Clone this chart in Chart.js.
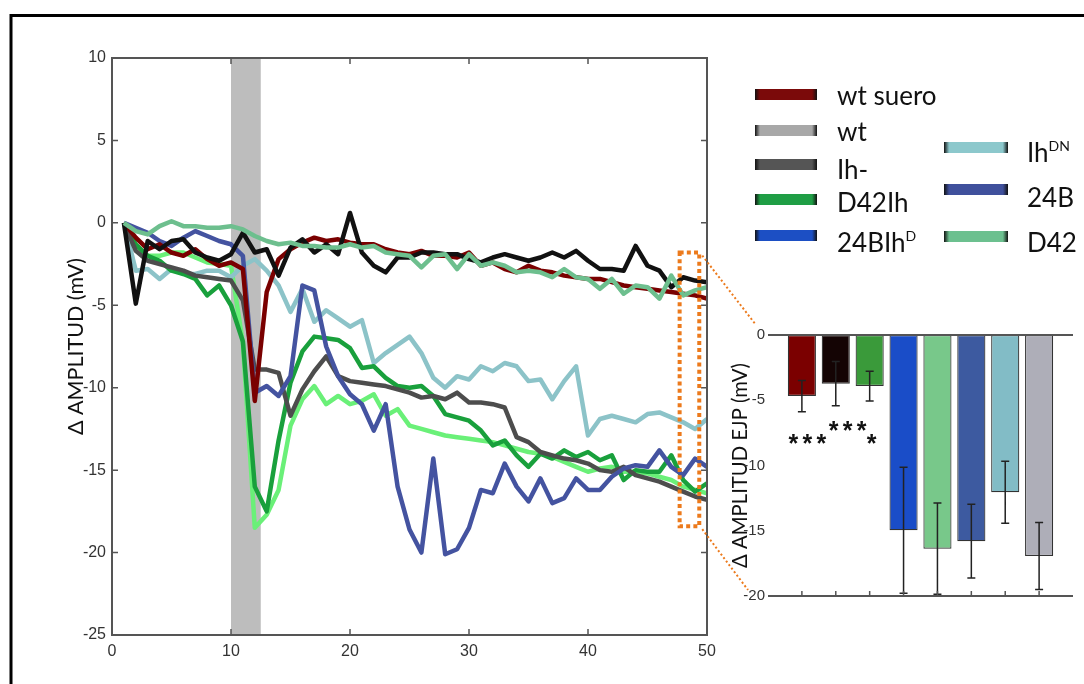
<!DOCTYPE html>
<html>
<head>
<meta charset="utf-8">
<script src="https://cdn.jsdelivr.net/npm/chart.js@4.4.0/dist/chart.umd.min.js"></script>
<style>
  html, body { margin: 0; padding: 0; background: #fff; }
  #wrap { position: relative; width: 1084px; height: 684px; overflow: hidden; }
  #mainChart { position: absolute; left: 0; top: 0; }
  #insetChart { position: absolute; left: 720px; top: 300px; }
  .swatch { position: absolute; height: 11px; }
  .lab { position: absolute; font-family: Lato, sans-serif; font-size: 26px; line-height: 26px; color: #111; white-space: nowrap; }
  .lab span { font-size: 14px; position: relative; top: -11px; }
</style>
</head>
<body>
<div id="wrap">
  <canvas id="mainChart" width="1084" height="684"></canvas>
  <canvas id="insetChart" width="364" height="384"></canvas>
  <div id="legend"></div>
</div>
<script>
// sweep number (x)
var sweeps = [1, 2, 3, 4, 5, 6, 7, 8, 9, 10,
  11, 12, 13, 14, 15, 16, 17, 18, 19, 20,
  21, 22, 23, 24, 25, 26, 27, 28, 29, 30,
  31, 32, 33, 34, 35, 36, 37, 38, 39, 40,
  41, 42, 43, 44, 45, 46, 47, 48, 49, 50];

// delta amplitude (mV) per sweep
var wt = [0, -4.9, -1.1, -1.6, -1.1, -1.0, -1.8, -2.1, -2.3, -1.9,
  -0.6, -1.8, -1.6, -3.2, -1.5, -1.0, -1.8, -1.3, -1.9, 0.6,
  -1.8, -2.6, -3.0, -2.1, -2.1, -1.8, -1.8, -1.9, -1.9, -2.2,
  -2.4, -2.1, -1.9, -2.1, -2.3, -2.1, -1.8, -2.1, -1.7, -2.3,
  -2.8, -2.8, -2.9, -1.4, -2.6, -2.9, -3.9, -3.3, -3.5, -3.6];
var wtSuero = [0, -0.9, -1.6, -1.3, -1.8, -2.0, -1.6, -2.2, -2.6, -2.4,
  -2.8, -10.8, -4.2, -2.2, -1.6, -1.2, -0.9, -1.1, -1.0, -1.2,
  -1.3, -1.3, -1.6, -1.8, -1.9, -1.7, -2.0, -2.0, -2.1, -1.8,
  -2.6, -2.4, -2.8, -3.0, -2.6, -2.9, -3.0, -3.2, -3.3, -3.4,
  -3.4, -3.6, -3.8, -3.9, -4.0, -4.1, -4.2, -4.3, -4.4, -4.6];
var d42 = [0, -0.5, -0.7, -0.2, 0.1, -0.2, -0.2, -0.3, -0.3, -0.2,
  -0.4, -0.8, -1.1, -1.3, -1.2, -1.4, -1.4, -1.5, -1.5, -1.3,
  -1.5, -1.4, -1.8, -1.9, -2.0, -2.7, -2.0, -1.9, -2.8, -1.9,
  -2.6, -2.4, -2.6, -3.0, -2.9, -3.0, -3.3, -2.8, -3.3, -3.4,
  -4.0, -3.4, -4.3, -3.8, -3.9, -4.6, -3.2, -4.4, -4.1, -3.9];
var ihDN = [0, -2.9, -2.8, -3.4, -2.8, -3.1, -3.1, -2.9, -2.9, -3.3,
  -2.6, -2.2, -2.9, -3.8, -5.4, -4.0, -6.0, -5.3, -5.8, -6.3,
  -5.9, -8.5, -7.9, -7.4, -6.9, -7.9, -9.4, -10.0, -9.3, -9.5,
  -8.7, -9.0, -8.5, -8.7, -9.6, -9.5, -10.7, -9.6, -8.7, -12.9,
  -11.9, -11.7, -11.9, -12.1, -11.6, -11.5, -11.8, -12.1, -12.5, -11.9];
var b24 = [0, -0.3, -0.6, -1.1, -1.4, -0.9, -0.5, -0.8, -1.1, -1.3,
  -2.0, -10.3, -9.9, -10.5, -9.3, -3.8, -4.1, -7.5, -9.3, -10.4,
  -11.0, -12.6, -11.0, -16.0, -18.6, -20.0, -14.3, -20.1, -19.8, -18.5,
  -16.2, -16.4, -14.6, -16.0, -16.9, -15.5, -17.0, -16.7, -15.5, -16.2,
  -16.2, -15.4, -14.9, -14.7, -14.8, -13.8, -14.8, -15.3, -14.3, -14.8];
var ihMinus = [0, -1.7, -2.3, -2.5, -2.7, -2.9, -3.2, -3.3, -3.4, -3.5,
  -4.7, -8.9, -8.9, -9.1, -11.7, -10.1, -9.0, -8.1, -9.3, -9.6,
  -9.7, -9.8, -9.9, -10.1, -10.3, -10.6, -10.5, -10.7, -10.3, -10.9,
  -10.9, -11.0, -11.2, -13.0, -13.3, -13.9, -14.1, -14.3, -14.4, -14.6,
  -15.0, -15.1, -14.8, -15.3, -15.5, -15.7, -16.0, -16.3, -16.6, -16.8];
var d42Ih = [0, -1.3, -2.0, -2.3, -2.9, -3.1, -3.4, -4.4, -3.8, -5.0,
  -7.2, -16.0, -17.5, -13.2, -9.7, -7.8, -6.9, -7.0, -7.1, -7.6,
  -8.8, -8.7, -9.4, -9.9, -10.0, -9.9, -10.5, -11.6, -11.8, -12.0,
  -12.6, -13.5, -13.2, -14.1, -14.8, -14.0, -14.3, -13.8, -14.2, -13.9,
  -14.4, -14.1, -15.6, -15.0, -15.1, -15.1, -14.1, -15.6, -16.3, -15.8];
var b24IhD = [0, -1.5, -2.0, -2.0, -1.8, -1.8, -2.1, -2.4, -2.5, -2.6,
  -7.3, -18.5, -17.7, -16.2, -12.3, -10.7, -9.9, -11.0, -10.5, -11.0,
  -10.8, -10.4, -11.7, -11.3, -12.3, -12.5, -12.7, -12.9, -13.0, -13.1,
  -13.2, -13.3, -13.5, -13.7, -13.9, -14.0, -14.2, -14.5, -14.8, -15.1,
  -14.9, -14.8, -15.1, -15.1, -15.2, -15.4, -15.6, -16.0, -16.2, -16.4];

// stimulation window (grey band) and zoomed window
var stimWindow = [10, 12.5];
var zoomBox = { xMin: 47.7, xMax: 49.35, yMin: -18.4, yMax: -1.8 };

// inset bar chart: mean +/- error of the final sweeps
var groupPos = [1, 2, 3, 4, 5, 6, 7, 8];
var groupMean = [-4.68, -3.73, -3.91, -14.96, -16.37, -15.8, -12.05, -16.93];
var groupErr = [1.2, 1.7, 1.14, 4.82, 3.49, 2.83, 2.38, 2.57];
var starText = ['***', '***', '*'];
var starPos = [1.16, 2.35, 3.06];
var starLevel = [-8.0, -7.0, -8.0];

var legendItems = [
  { label: 'wt suero', sup: '', color: '#7b0a0a', col: 0, row: 0 },
  { label: 'wt', sup: '', color: '#a8a8a8', col: 0, row: 1 },
  { label: 'Ih-', sup: '', color: '#555555', col: 0, row: 2 },
  { label: 'D42Ih', sup: '', color: '#1f9e45', col: 0, row: 3 },
  { label: '24BIh', sup: 'D', color: '#1c4fc4', col: 0, row: 4 },
  { label: 'Ih', sup: 'DN', color: '#8cc8cc', col: 1, row: 0 },
  { label: '24B', sup: '', color: '#3f509c', col: 1, row: 1 },
  { label: 'D42', sup: '', color: '#6cc08f', col: 1, row: 2 }
];

var MAIN_TITLE = 'Δ AMPLITUD (mV)';
var INSET_TITLE = 'Δ AMPLITUD EJP (mV)';
var TICK_FAMILY = '"Liberation Sans", Arial, sans-serif';

// pick a font size so the rotated title spans the same length as in the figure
function fitSize(text, family, target) {
  var c = document.createElement('canvas').getContext('2d');
  c.font = '100px ' + family;
  return Math.round(100 * target / c.measureText(text).width * 10) / 10;
}
var mainTitleSize = fitSize(MAIN_TITLE, 'Lato', 177);
var insetTitleSize = fitSize(INSET_TITLE, 'Lato', 205);

function toPoints(values) {
  return values.map(function(v, i) { return { x: sweeps[i], y: v }; });
}

function lineSet(label, values, color, order) {
  return {
    label: label,
    data: toPoints(values),
    borderColor: color,
    borderWidth: 4.5,
    pointRadius: 0,
    tension: 0,
    borderJoinStyle: 'round',
    order: order
  };
}

// matlab-like box with inward ticks, grey stimulus band, orange zoom marker
var mainDecor = {
  id: 'mainDecor',
  beforeDatasetsDraw: function(chart) {
    var ctx = chart.ctx, a = chart.chartArea, xs = chart.scales.x;
    ctx.save();
    ctx.fillStyle = '#bdbdbd';
    var x0 = xs.getPixelForValue(stimWindow[0]);
    var x1 = xs.getPixelForValue(stimWindow[1]);
    ctx.fillRect(x0, a.top, x1 - x0, a.bottom - a.top);
    ctx.restore();
  },
  afterDraw: function(chart) {
    var ctx = chart.ctx, a = chart.chartArea;
    var xs = chart.scales.x, ys = chart.scales.y;
    ctx.save();
    ctx.strokeStyle = '#555';
    ctx.lineWidth = 2;
    ctx.strokeRect(a.left, a.top, a.right - a.left, a.bottom - a.top);
    ctx.lineWidth = 1.5;
    ctx.beginPath();
    xs.ticks.forEach(function(t) {
      if (t.value <= xs.min || t.value >= xs.max) return;
      var px = xs.getPixelForValue(t.value);
      ctx.moveTo(px, a.bottom); ctx.lineTo(px, a.bottom - 6);
      ctx.moveTo(px, a.top); ctx.lineTo(px, a.top + 6);
    });
    ys.ticks.forEach(function(t) {
      if (t.value <= ys.min || t.value >= ys.max) return;
      var py = ys.getPixelForValue(t.value);
      ctx.moveTo(a.left, py); ctx.lineTo(a.left + 6, py);
      ctx.moveTo(a.right, py); ctx.lineTo(a.right - 6, py);
    });
    ctx.stroke();

    // orange zoom rectangle + connectors to the inset
    var bx0 = xs.getPixelForValue(zoomBox.xMin), bx1 = xs.getPixelForValue(zoomBox.xMax);
    var by0 = ys.getPixelForValue(zoomBox.yMax), by1 = ys.getPixelForValue(zoomBox.yMin);
    ctx.strokeStyle = '#ec7a1c';
    ctx.lineWidth = 4;
    ctx.setLineDash([4, 3.2]);
    ctx.strokeRect(bx0, by0, bx1 - bx0, by1 - by0);
    ctx.lineWidth = 2;
    ctx.setLineDash([2, 2.4]);
    ctx.beginPath();
    ctx.moveTo(bx1 + 3, by0 + 3); ctx.lineTo(756, 325);
    ctx.moveTo(bx1 + 3, by1 + 3); ctx.lineTo(748, 590);
    ctx.stroke();
    ctx.setLineDash([]);

    // outer figure frame
    ctx.strokeStyle = '#000';
    ctx.lineWidth = 3;
    ctx.beginPath();
    ctx.moveTo(11, 700); ctx.lineTo(11, 15.5); ctx.lineTo(1100, 15.5);
    ctx.stroke();
    ctx.restore();
  }
};

var mainChart = new Chart(document.getElementById('mainChart'), {
  type: 'line',
  data: {
    datasets: [
      lineSet('D42', d42, '#6dbf8e', 1),
      lineSet('wt', wt, '#111111', 2),
      lineSet('wt suero', wtSuero, '#7a0000', 3),
      lineSet('24B', b24, '#4453a0', 4),
      lineSet('Ih-', ihMinus, '#4d4d4d', 5),
      lineSet('D42Ih', d42Ih, '#19a03c', 6),
      lineSet('IhDN', ihDN, '#8cc3c8', 7),
      lineSet('24BIhD', b24IhD, '#6af078', 8)
    ]
  },
  options: {
    responsive: false,
    animation: false,
    layout: { padding: { left: 0, top: 58, right: 377, bottom: 0 } },
    plugins: { legend: { display: false }, tooltip: { enabled: false } },
    scales: {
      x: {
        type: 'linear', min: 0, max: 50,
        ticks: { stepSize: 10, padding: 7, color: '#333', font: { family: TICK_FAMILY, size: 16 } },
        grid: { display: false, drawTicks: false },
        border: { display: false },
        afterFit: function(s) { s.height = 49; }
      },
      y: {
        min: -25, max: 10,
        ticks: { stepSize: 5, padding: 6, color: '#333', font: { family: TICK_FAMILY, size: 16 } },
        grid: { display: false, drawTicks: false },
        border: { display: false },
        title: { display: true, text: MAIN_TITLE, color: '#111', font: { family: 'Lato', size: mainTitleSize }, padding: { top: 63, bottom: 0 } },
        afterFit: function(s) { s.width = 112; }
      }
    }
  },
  plugins: [mainDecor]
});

// inset: axis lines, error bars and significance stars
var insetDecor = {
  id: 'insetDecor',
  afterDatasetsDraw: function(chart) {
    var ctx = chart.ctx, a = chart.chartArea;
    var xs = chart.scales.x, ys = chart.scales.y;
    ctx.save();
    ctx.strokeStyle = '#222';
    ctx.lineWidth = 1.5;
    ctx.beginPath();
    groupPos.forEach(function(p, i) {
      var px = xs.getPixelForValue(p);
      var hi = ys.getPixelForValue(groupMean[i] + groupErr[i]);
      var lo = ys.getPixelForValue(groupMean[i] - groupErr[i]);
      ctx.moveTo(px, hi); ctx.lineTo(px, lo);
      ctx.moveTo(px - 4, hi); ctx.lineTo(px + 4, hi);
      ctx.moveTo(px - 4, lo); ctx.lineTo(px + 4, lo);
    });
    ctx.stroke();

    ctx.strokeStyle = '#555';
    ctx.lineWidth = 2;
    ctx.beginPath();
    var y0 = ys.getPixelForValue(ys.max), y1 = ys.getPixelForValue(ys.min);
    ctx.moveTo(a.left, y0); ctx.lineTo(a.right, y0);
    ctx.moveTo(a.left, y1); ctx.lineTo(a.right, y1);
    ctx.stroke();
    ctx.lineWidth = 1.5;
    ctx.beginPath();
    groupPos.forEach(function(p) {
      var px = xs.getPixelForValue(p);
      ctx.moveTo(px, y1); ctx.lineTo(px, y1 - 5);
    });
    ctx.stroke();

    ctx.fillStyle = '#111';
    ctx.font = 'bold 25px ' + TICK_FAMILY;
    ctx.textAlign = 'center';
    ctx.textBaseline = 'alphabetic';
    var m = ctx.measureText('*');
    var lift = (m.actualBoundingBoxAscent - m.actualBoundingBoxDescent) / 2;
    starText.forEach(function(s, i) {
      var cx = xs.getPixelForValue(starPos[i]);
      var cy = ys.getPixelForValue(starLevel[i]);
      for (var k = 0; k < s.length; k++) {
        var off = (k - (s.length - 1) / 2) * 14;
        ctx.fillText('*', cx + off, cy + lift);
      }
    });
    ctx.restore();
  }
};

var insetChart = new Chart(document.getElementById('insetChart'), {
  type: 'bar',
  data: {
    datasets: [{
      data: groupPos.map(function(p, i) { return { x: p, y: groupMean[i] }; }),
      backgroundColor: ['#7b0000', '#140404', '#3a9a3a', '#1a4dc8', '#78c88a', '#3d5aa0', '#82bcc6', '#aeaeb8'],
      borderColor: '#333',
      borderWidth: 1.2,
      borderSkipped: false,
      barPercentage: 0.83,
      categoryPercentage: 1
    }]
  },
  options: {
    responsive: false,
    animation: false,
    layout: { padding: { left: 0, top: 35, right: 11, bottom: 0 } },
    plugins: { legend: { display: false }, tooltip: { enabled: false } },
    scales: {
      x: {
        type: 'linear', min: 0, max: 9, offset: false,
        ticks: { display: false },
        grid: { display: false, drawTicks: false },
        border: { display: false },
        afterFit: function(s) { s.height = 88; }
      },
      y: {
        min: -20, max: 0,
        ticks: { stepSize: 5, padding: 3, color: '#333', font: { family: TICK_FAMILY, size: 15 } },
        grid: { display: false, drawTicks: false },
        border: { display: false },
        title: { display: true, text: INSET_TITLE, color: '#111', font: { family: 'Lato', size: insetTitleSize }, padding: { top: 8, bottom: 0 } },
        afterFit: function(s) { s.width = 48; }
      }
    }
  },
  plugins: [insetDecor]
});

// legend (two columns, like the figure)
var swatchLeft = [755, 944];
var swatchWidth = [62, 64];
var colTop = [[89, 125, 159, 194, 230], [142, 184, 231]];
var labelLeft = [837, 1027];
var labelTop = [[82, 118, 156, 189, 229], [139, 184, 229]];
var legendEl = document.getElementById('legend');
legendItems.forEach(function(item) {
  var sw = document.createElement('div');
  sw.className = 'swatch';
  sw.style.left = swatchLeft[item.col] + 'px';
  sw.style.top = colTop[item.col][item.row] + 'px';
  sw.style.width = swatchWidth[item.col] + 'px';
  sw.style.background = 'linear-gradient(to right, #111 0%, ' + item.color + ' 8%, ' + item.color + ' 92%, #111 100%)';
  legendEl.appendChild(sw);
  var lab = document.createElement('div');
  lab.className = 'lab';
  lab.style.left = labelLeft[item.col] + 'px';
  lab.style.top = labelTop[item.col][item.row] + 'px';
  lab.innerHTML = item.label + (item.sup ? '<span>' + item.sup + '</span>' : '');
  legendEl.appendChild(lab);
});
</script>
</body>
</html>
